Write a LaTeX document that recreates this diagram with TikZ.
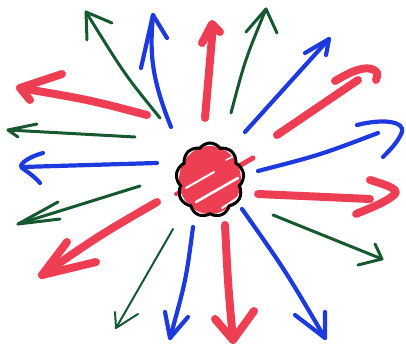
\documentclass[tikz,border=0pt]{standalone}
\usetikzlibrary{shapes.symbols}
\definecolor{mred}{RGB}{238,62,84}
\definecolor{mblue}{RGB}{28,58,222}
\definecolor{mgreen}{RGB}{22,88,48}
\tikzset{
  redpen/.style={draw=mred, line width=8pt, line cap=round, line join=round},
  bluepen/.style={draw=mblue, line width=4.2pt, line cap=round, line join=round},
  greenpen/.style={draw=mgreen, line width=3pt, line cap=round, line join=round},
  thingreen/.style={draw=mgreen, line width=2pt, line cap=round, line join=round},
  blobshape/.style={cloud, cloud puffs=9, cloud puff arc=110, aspect=0.9, minimum width=68pt, minimum height=74pt, inner sep=0pt},
}
\begin{document}
\begin{tikzpicture}[x=1pt,y=-1pt]
\useasboundingbox (0,0) rectangle (406,344);
% centre blob
\node[blobshape, fill=white] (blob) at (210,180) {};
\begin{scope}
\clip (blob.center) ellipse (36 and 39);
\fill[mred] (blob.center) ellipse (31 and 34);
\draw[white, line width=2.5pt, line cap=round] (196,202) -- (238,178);
\draw[white, line width=2pt, line cap=round] (186,188) -- (214,172);
\draw[white, line width=2pt, line cap=round] (222,208) -- (242,195);
\draw[white, line width=1.5pt, line cap=round] (226,160) -- (246,150);
\draw[white, line width=3pt, line cap=round] (180,200) -- (190,206);
\end{scope}
\draw[mred, line width=5pt, line cap=round] (232,170) -- (253,158);
\draw[mred, line width=4pt, line cap=round] (184,190) -- (176,194);
\node[blobshape, draw=black, line width=3pt] (outline) at (210,180) {};

% 1 green top-left
\draw[greenpen] (160,118) .. controls (125,75) .. (86,12);
\draw[greenpen] (87,40) -- (86,12) -- (112,23);
% 2 blue top-left
\draw[bluepen] (171,127) .. controls (150,75) and (150,50) .. (153,15);
\draw[bluepen] (141,68) -- (153,15) -- (167,38);
% 3 red top-left
\draw[redpen] (147,115) .. controls (90,100) .. (20,88);
\draw[redpen] (62,74) -- (20,88) -- (30,100);
% 4 green left
\draw[greenpen] (135,137) -- (8,130);
\draw[greenpen] (37,124) -- (8,130) -- (18,137);
% 5 blue left
\draw[bluepen] (157,163) -- (22,167);
\draw[bluepen] (43,153) .. controls (25,158) and (18,166) .. (22,168) .. controls (28,172) and (36,178) .. (40,183);
% 6 green lower-left
\draw[greenpen] (140,186) -- (18,224);
\draw[greenpen] (58,202) -- (18,224) -- (60,219);
% 7 red lower-left
\draw[redpen] (157,202) .. controls (100,235) .. (42,275);
\draw[redpen] (67,242) -- (42,275) -- (96,262);
% 8 thin green bottom-left
\draw[thingreen] (173,229) -- (116,328);
\draw[thingreen] (115,312) -- (116,328) -- (138,314);
% 9 blue bottom
\draw[bluepen] (193,227) .. controls (186,280) .. (170,338);
\draw[bluepen] (165,312) -- (170,338) -- (188,317);
% 10 red bottom
\draw[redpen] (225,225) .. controls (228,285) .. (233,340);
\draw[redpen] (215,319) -- (233,340) -- (254,311);
% 11 blue bottom-right
\draw[bluepen] (242,209) .. controls (285,270) .. (325,338);
\draw[bluepen] (295,315) -- (325,338) -- (325,312);
% 12 green right
\draw[greenpen] (273,215) -- (382,259);
\draw[greenpen] (375,244) -- (382,259) -- (358,265);
% 13 red right
\draw[redpen] (258,194) -- (370,199);
\draw[redpen] (370,180) .. controls (390,186) and (400,190) .. (394,195) .. controls (385,203) and (365,210) .. (356,214);
% 14 blue right
\draw[bluepen] (258,171) .. controls (320,155) .. (378,133);
\draw[bluepen] (357,125) .. controls (385,118) and (405,122) .. (402,132) .. controls (398,142) and (390,150) .. (383,157);
% 15 red top-right
\draw[redpen] (277,135) -- (358,80);
\draw[redpen] (335,81) .. controls (350,72) and (365,65) .. (374,70) .. controls (378,73) .. (376,80);
% 16 blue top-right
\draw[bluepen] (245,132) -- (329,39);
\draw[bluepen] (305,53) -- (329,39) -- (326,55);
% 17 green top-right
\draw[greenpen] (231,113) .. controls (245,60) .. (266,9);
\draw[greenpen] (246,32) -- (266,9) -- (277,33);
% 18 red top
\draw[redpen] (205,118) -- (213,26);
\draw[redpen] (202,43) -- (212,24) -- (220,32);
\end{tikzpicture}
\end{document}
